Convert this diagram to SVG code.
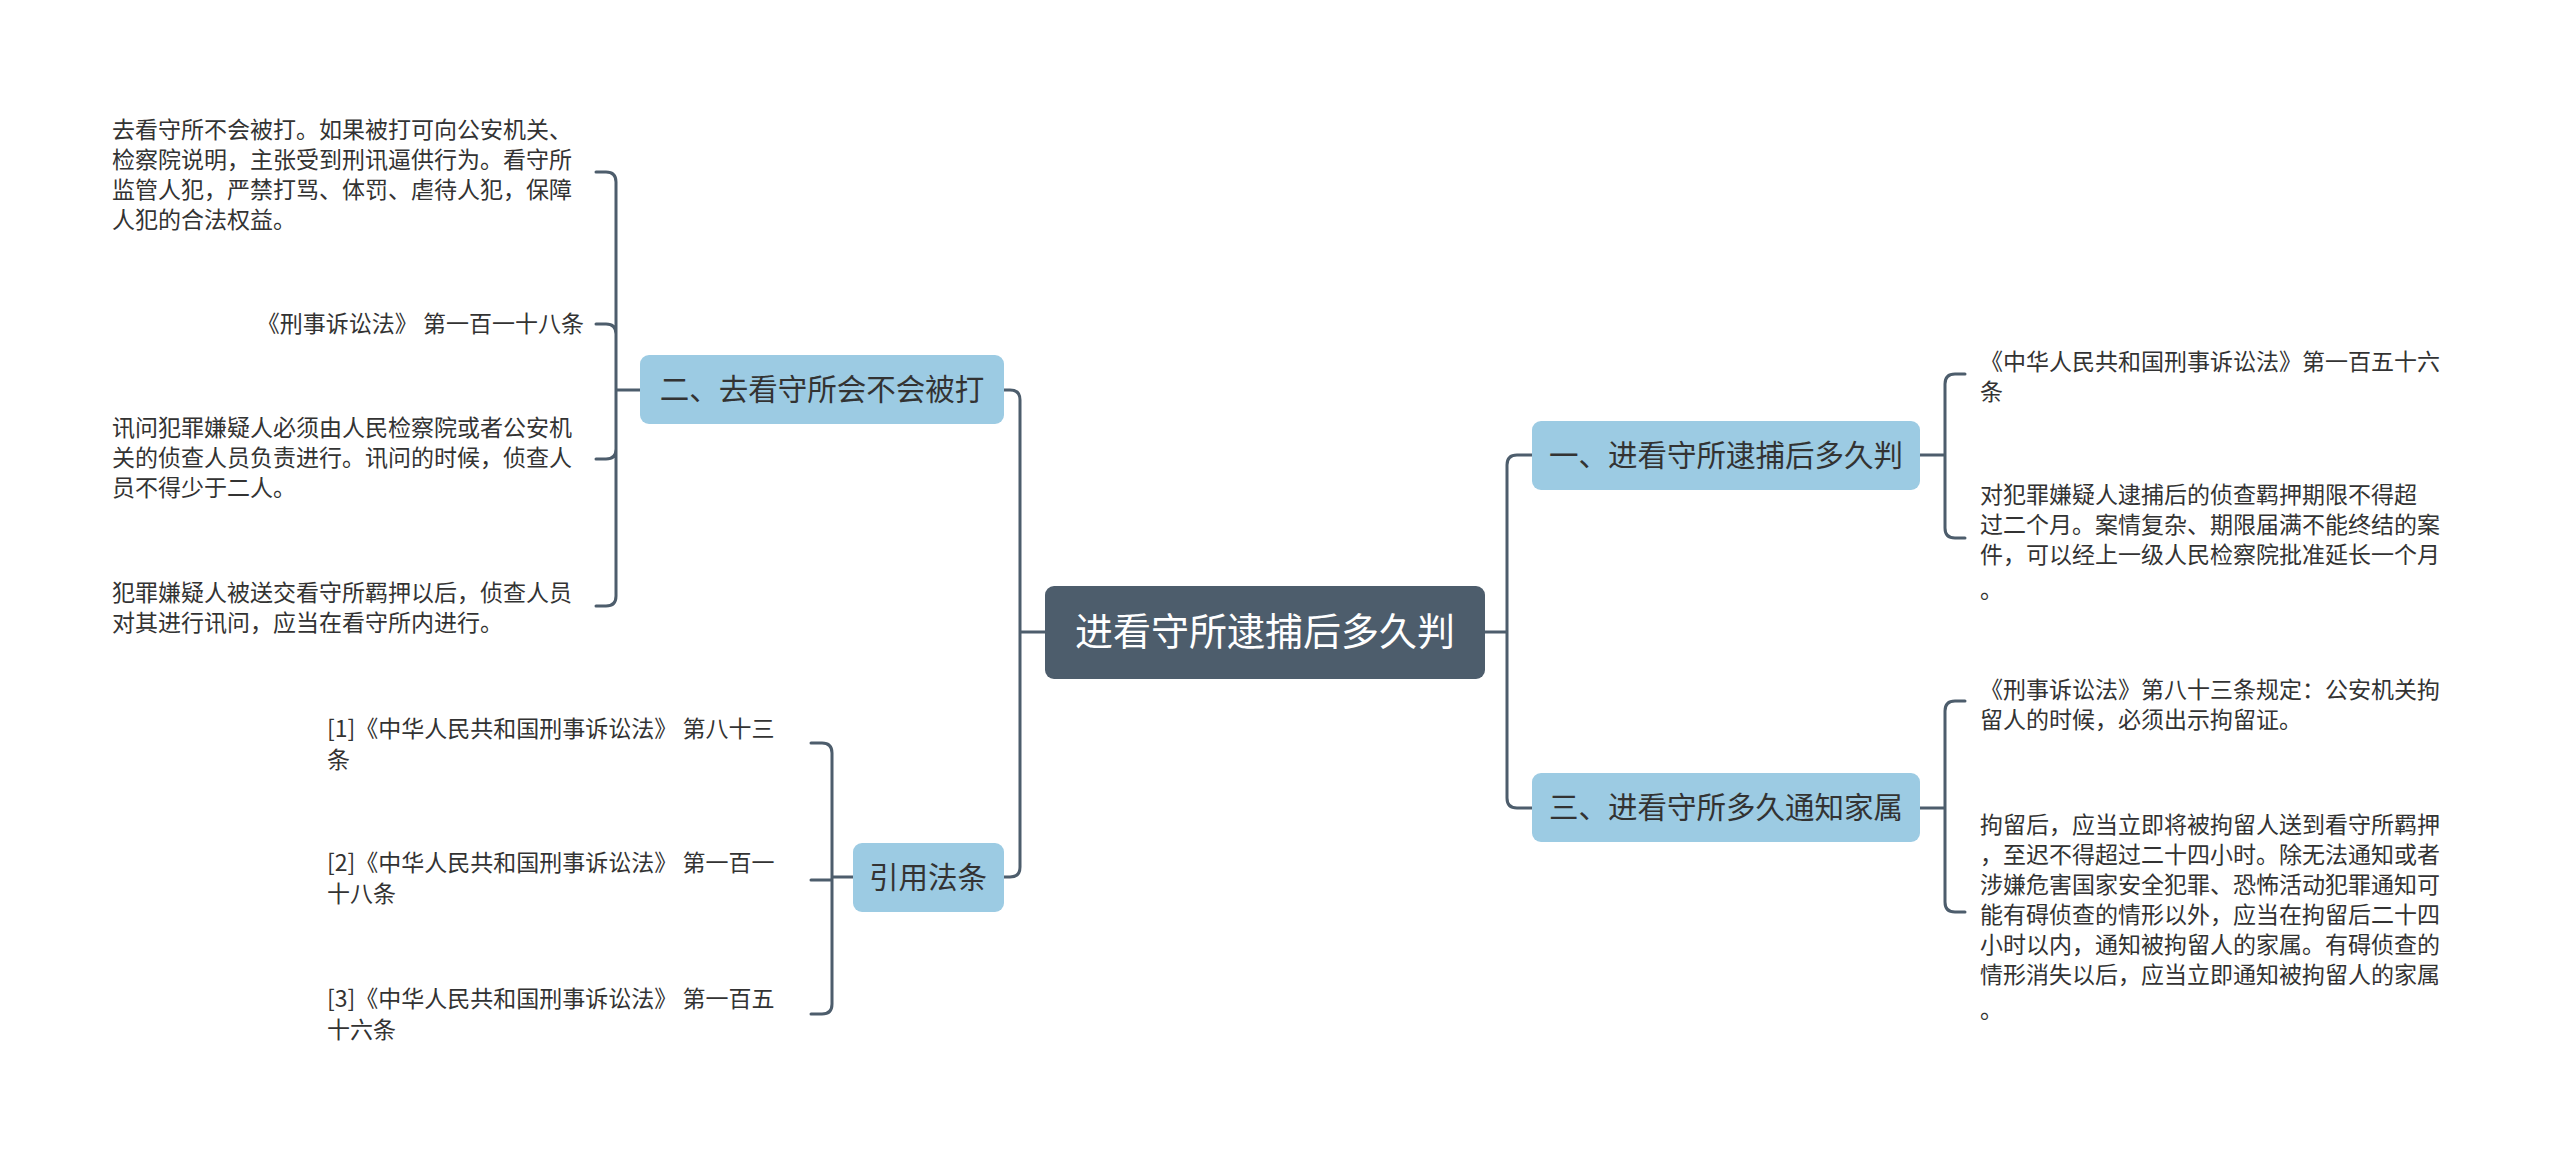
<svg xmlns="http://www.w3.org/2000/svg" width="2560" height="1151" viewBox="0 0 2560 1151">
<style>
.c{fill:none;stroke:#4d5d6c;stroke-width:3;stroke-linecap:round}
.sub rect{fill:#9ccbe3}
.sub text{font-family:"Noto Sans CJK SC",sans-serif;font-size:29.5px;fill:#333;text-anchor:middle}
.leaf text{font-family:"Noto Sans CJK SC",sans-serif;font-size:23px;fill:#333}
</style>
<rect width="2560" height="1151" fill="#fff"/>
<g id="connectors">
<path class="c" d="M1045 632H1020M1020 632V400Q1020 390 1010 390H1004M1020 632V867Q1020 877 1010 877H1004"/>
<path class="c" d="M1485 632H1507M1507 632V465Q1507 455 1517 455H1532M1507 632V798Q1507 808 1517 808H1532"/>
<path class="c" d="M640 390H616M596 172H606Q616 172 616 182V596Q616 606 606 606H596M596 324H606Q616 324 616 334M596 459H606Q616 459 616 449"/>
<path class="c" d="M853 877H832M811 743H822Q832 743 832 753V1004Q832 1014 822 1014H811M811 880H832"/>
<path class="c" d="M1920 455H1945M1965 374H1955Q1945 374 1945 384V528Q1945 538 1955 538H1965"/>
<path class="c" d="M1920 808H1945M1965 701H1955Q1945 701 1945 711V902Q1945 912 1955 912H1965"/>
</g>
<g id="root"><rect x="1045" y="586" width="440" height="93" rx="9" fill="#4d5d6c"/><text x="1265" y="645" font-family="Noto Sans CJK SC,sans-serif" font-size="38" fill="#fff" text-anchor="middle">进看守所逮捕后多久判</text></g>
<g id="n2" class="sub"><rect x="640" y="355" width="364" height="69" rx="9"/><text x="822" y="400">二、去看守所会不会被打</text></g>
<g id="n4" class="sub"><rect x="853" y="843" width="151" height="69" rx="9"/><text x="928" y="888">引用法条</text></g>
<g id="n1" class="sub"><rect x="1532" y="421" width="388" height="69" rx="9"/><text x="1726" y="466">一、进看守所逮捕后多久判</text></g>
<g id="n3" class="sub"><rect x="1532" y="773" width="388" height="69" rx="9"/><text x="1726" y="818">三、进看守所多久通知家属</text></g>
<g id="l21" class="leaf"><text x="112" y="138">去看守所不会被打。如果被打可向公安机关、</text><text x="112" y="168">检察院说明，主张受到刑讯逼供行为。看守所</text><text x="112" y="198">监管人犯，严禁打骂、体罚、虐待人犯，保障</text><text x="112" y="228">人犯的合法权益。</text></g>
<g id="l22" class="leaf"><text x="584" y="332" text-anchor="end">《刑事诉讼法》 第一百一十八条</text></g>
<g id="l23" class="leaf"><text x="112" y="436">讯问犯罪嫌疑人必须由人民检察院或者公安机</text><text x="112" y="466">关的侦查人员负责进行。讯问的时候，侦查人</text><text x="112" y="496">员不得少于二人。</text></g>
<g id="l24" class="leaf"><text x="112" y="601">犯罪嫌疑人被送交看守所羁押以后，侦查人员</text><text x="112" y="631">对其进行讯问，应当在看守所内进行。</text></g>
<g id="l41" class="leaf"><text x="327" y="737">[1]《中华人民共和国刑事诉讼法》 第八十三</text><text x="327" y="768">条</text></g>
<g id="l42" class="leaf"><text x="327" y="871">[2]《中华人民共和国刑事诉讼法》 第一百一</text><text x="327" y="902">十八条</text></g>
<g id="l43" class="leaf"><text x="327" y="1007">[3]《中华人民共和国刑事诉讼法》 第一百五</text><text x="327" y="1038">十六条</text></g>
<g id="l11" class="leaf"><text x="1980" y="370">《中华人民共和国刑事诉讼法》第一百五十六</text><text x="1980" y="400">条</text></g>
<g id="l12" class="leaf"><text x="1980" y="503"> 对犯罪嫌疑人逮捕后的侦查羁押期限不得超</text><text x="1980" y="533">过二个月。案情复杂、期限届满不能终结的案</text><text x="1980" y="563">件，可以经上一级人民检察院批准延长一个月</text><text x="1980" y="598">。</text></g>
<g id="l31" class="leaf"><text x="1980" y="698">《刑事诉讼法》第八十三条规定：公安机关拘</text><text x="1980" y="728">留人的时候，必须出示拘留证。</text></g>
<g id="l32" class="leaf"><text x="1980" y="833">拘留后，应当立即将被拘留人送到看守所羁押</text><text x="1980" y="863">，至迟不得超过二十四小时。除无法通知或者</text><text x="1980" y="893">涉嫌危害国家安全犯罪、恐怖活动犯罪通知可</text><text x="1980" y="923">能有碍侦查的情形以外，应当在拘留后二十四</text><text x="1980" y="953">小时以内，通知被拘留人的家属。有碍侦查的</text><text x="1980" y="983">情形消失以后，应当立即通知被拘留人的家属</text><text x="1980" y="1018">。</text></g>
</svg>
